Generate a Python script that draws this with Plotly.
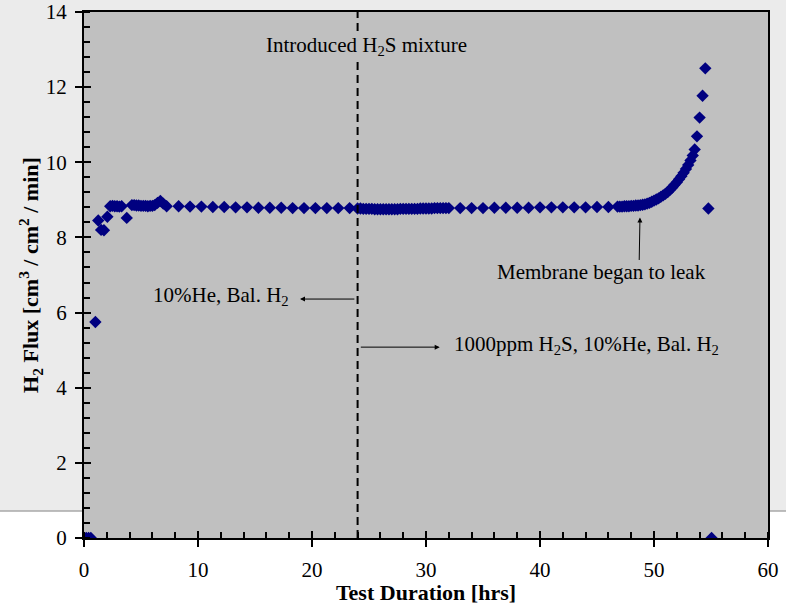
import plotly.graph_objects as go

# ---- measured H2 flux vs. test duration ----
# start-up
t_start = [0.0, 0.2, 0.4, 0.6, 1.0, 1.25, 1.5, 1.75, 2.05,
           2.3, 2.5, 2.7, 2.9, 3.1, 3.3, 3.75,
           4.2, 4.4, 4.6, 4.8, 5.0, 5.2, 5.4, 5.6, 5.8, 6.0, 6.2,
           6.45, 6.7, 6.95, 7.25]
f_start = [0.0, 0.0, 0.0, 0.0, 5.75, 8.45, 8.20, 8.19, 8.55,
           8.83, 8.84, 8.83, 8.83, 8.82, 8.83, 8.52,
           8.86, 8.86, 8.85, 8.85, 8.84, 8.84, 8.84, 8.83, 8.84, 8.84, 8.86,
           8.92, 8.97, 8.90, 8.83]

# hourly readings, 10%He / Bal. H2
t_feed1 = [8.3, 9.3, 10.3, 11.3, 12.3, 13.3, 14.3, 15.3,
           16.3, 17.3, 18.3, 19.3, 20.3, 21.3, 22.3, 23.3]
f_feed1 = [8.83, 8.82, 8.82, 8.81, 8.81, 8.80, 8.80, 8.79,
           8.79, 8.79, 8.78, 8.78, 8.78, 8.78, 8.78, 8.78]

# frequent readings right after the H2S mixture was introduced
t_h2s = [24.0, 24.25, 24.5, 24.75, 25.0, 25.25, 25.5, 25.75, 26.0, 26.25, 26.5,
         26.75, 27.0, 27.25, 27.5, 27.75, 28.0, 28.25, 28.5, 28.75, 29.0, 29.25,
         29.5, 29.75, 30.0, 30.25, 30.5, 30.75, 31.0, 31.25, 31.5, 31.75, 32.0]
f_h2s = [8.77, 8.77, 8.76, 8.76, 8.76, 8.76, 8.75, 8.75, 8.75, 8.75, 8.75,
         8.75, 8.75, 8.75, 8.75, 8.76, 8.76, 8.76, 8.76, 8.76, 8.76, 8.76,
         8.77, 8.77, 8.77, 8.77, 8.77, 8.78, 8.78, 8.78, 8.78, 8.78, 8.78]

# hourly readings under 1000ppm H2S
t_feed2 = [33.0, 34.0, 35.0, 36.0, 37.0, 38.0, 39.0,
           40.0, 41.0, 42.0, 43.0, 44.0, 45.0, 46.0]
f_feed2 = [8.78, 8.78, 8.78, 8.79, 8.79, 8.79, 8.79,
           8.80, 8.80, 8.80, 8.80, 8.80, 8.81, 8.81]

# frequent readings during the leak
t_leak = [46.8, 47.0, 47.2, 47.4, 47.6, 47.8, 48.0, 48.2, 48.4, 48.6, 48.8,
          49.0, 49.2, 49.4, 49.6, 49.8, 50.0, 50.2, 50.4, 50.6, 50.8, 51.0,
          51.2, 51.4, 51.6, 51.8, 52.0, 52.2, 52.4, 52.6, 52.8, 53.0, 53.2,
          53.4, 53.57, 53.77, 54.0, 54.26, 54.5, 54.77, 55.05]
f_leak = [8.82, 8.82, 8.82, 8.83, 8.83, 8.83, 8.84, 8.84, 8.85, 8.85, 8.86,
          8.87, 8.88, 8.90, 8.92, 8.95, 8.98, 9.01, 9.04, 9.08, 9.12, 9.16,
          9.21, 9.27, 9.33, 9.40, 9.47, 9.55, 9.63, 9.72, 9.82, 9.93, 10.05,
          10.18, 10.34, 10.69, 11.19, 11.77, 12.50, 8.77, 0.0]

time_hrs = t_start + t_feed1 + t_h2s + t_feed2 + t_leak
h2_flux = f_start + f_feed1 + f_h2s + f_feed2 + f_leak

h2s_start_hr = 24.0

x_range = [0, 60]
y_range = [0, 14]

serif = "Liberation Serif, Times New Roman, serif"

fig = go.Figure()
fig.add_trace(go.Scatter(
    x=time_hrs, y=h2_flux, mode="markers",
    marker=dict(symbol="diamond", size=9.5, color="#000080",
                line=dict(width=0)),
    hoverinfo="x+y",
))
# empty trace carrying the overlay axes used for the inner halves of major ticks
fig.add_trace(go.Scatter(x=[], y=[], xaxis="x2", yaxis="y2",
                         hoverinfo="skip", showlegend=False))

axis_common = dict(showgrid=False, zeroline=False, tickcolor="black",
                   tickwidth=2, ticklen=7, automargin=False)
tick_font = dict(family=serif, size=21, color="black")
title_font = dict(family=serif, size=22, color="black")

fig.update_layout(
    width=786, height=605,
    margin=dict(l=84, r=18, t=12, b=67),
    paper_bgcolor="#EBEBEB",
    plot_bgcolor="#C0C0C0",
    showlegend=False,
    font=dict(family=serif, size=21, color="black"),
    xaxis=dict(
        range=x_range, tick0=0, dtick=10, ticks="outside",
        showline=True, linecolor="black", linewidth=2, mirror=True,
        tickfont=tick_font, ticklabelstandoff=5,
        minor=dict(dtick=2, ticks="inside", ticklen=6, tickwidth=1.5,
                   tickcolor="black", showgrid=False),
        title=dict(text="<b>Test Duration [hrs]</b>",
                   font=title_font, standoff=2),
        **axis_common,
    ),
    yaxis=dict(
        range=y_range, tick0=0, dtick=2, ticks="outside",
        showline=True, linecolor="black", linewidth=2, mirror=True,
        tickfont=tick_font, ticklabelstandoff=4,
        minor=dict(dtick=0.4, ticks="inside", ticklen=6, tickwidth=1.5,
                   tickcolor="black", showgrid=False),
        title=dict(text="<b>H<sub>2</sub> Flux [cm<sup>3</sup> / cm<sup>2</sup> / min]</b>",
                   font=title_font, standoff=0),
        **axis_common,
    ),
    xaxis2=dict(overlaying="x", anchor="y2", range=x_range, tick0=0, dtick=10,
                ticks="inside", showticklabels=False, showline=False,
                **axis_common),
    yaxis2=dict(overlaying="y", anchor="x2", range=y_range, tick0=0, dtick=2,
                ticks="inside", showticklabels=False, showline=False,
                **axis_common),
)

# white slide band below the chart, with its thin border line
band_y = 0.0513
shapes = [
    dict(type="rect", xref="paper", yref="paper", x0=-0.15, x1=1.05, y0=-0.25,
         y1=0, fillcolor="white", line=dict(width=0), layer="below"),
    dict(type="rect", xref="paper", yref="paper", x0=-0.15, x1=0, y0=-0.01,
         y1=band_y, fillcolor="white", line=dict(width=0), layer="below"),
    dict(type="rect", xref="paper", yref="paper", x0=1, x1=1.05, y0=-0.01,
         y1=band_y, fillcolor="white", line=dict(width=0), layer="below"),
    dict(type="line", xref="paper", yref="paper", x0=-0.15, x1=0, y0=band_y,
         y1=band_y, line=dict(color="#A8A8A8", width=1.5), layer="below"),
    dict(type="line", xref="paper", yref="paper", x0=1, x1=1.05, y0=band_y,
         y1=band_y, line=dict(color="#A8A8A8", width=1.5), layer="below"),
    # start of the H2S exposure
    dict(type="line", xref="x", yref="y", x0=h2s_start_hr, x1=h2s_start_hr,
         y0=y_range[0], y1=y_range[1],
         line=dict(color="black", width=2, dash="8px,5px"), layer="above"),
]
fig.update_layout(shapes=shapes)

text_font = dict(family=serif, size=21, color="black")
annotations = [
    dict(x=24.78, y=13.1, text="Introduced H<sub>2</sub>S mixture",
         showarrow=False, bgcolor="#C0C0C0", font=text_font,
         xanchor="center", yanchor="middle"),
    dict(x=5.85, y=6.45, text="10%He, Bal. H<sub>2</sub>", showarrow=False,
         font=text_font, xanchor="left", yanchor="middle"),
    dict(x=32.25, y=5.15, text="1000ppm H<sub>2</sub>S, 10%He, Bal. H<sub>2</sub>",
         showarrow=False, font=text_font, xanchor="left", yanchor="middle"),
    dict(x=45.4, y=7.07, text="Membrane began to leak", showarrow=False,
         font=text_font, xanchor="center", yanchor="middle"),
    # arrows
    dict(x=18.95, y=6.36, ax=23.85, ay=6.36, axref="x", ayref="y", text="",
         showarrow=True, arrowhead=2, arrowsize=1, arrowwidth=1,
         arrowcolor="black"),
    dict(x=31.2, y=5.08, ax=24.15, ay=5.08, axref="x", ayref="y", text="",
         showarrow=True, arrowhead=2, arrowsize=1, arrowwidth=1,
         arrowcolor="black"),
    dict(x=48.77, y=8.53, ax=48.7, ay=7.36, axref="x", ayref="y", text="",
         showarrow=True, arrowhead=2, arrowsize=1, arrowwidth=1,
         arrowcolor="black"),
]
fig.update_layout(annotations=annotations)

fig.write_html("out.html")
